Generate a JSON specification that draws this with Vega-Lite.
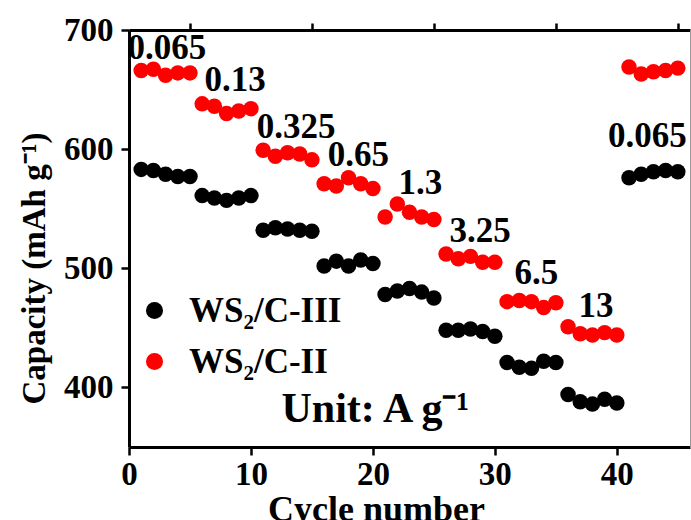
{
  "$schema": "https://vega.github.io/schema/vega-lite/v6.json",
  "width": 561,
  "height": 417,
  "autosize": "none",
  "padding": {"left": 129, "top": 30, "right": 1, "bottom": 73},
  "background": "white",
  "config": {
    "view": {"stroke": null},
    "font": "Liberation Serif",
    "axis": {"labelFont": "Liberation Serif", "titleFont": "Liberation Serif", "labelFontWeight": "bold", "titleFontWeight": "bold", "labelColor": "black", "titleColor": "black", "domainColor": "black", "tickColor": "black", "grid": false}
  },
  "datasets": {
    "pts": [
      {"cycle": 1, "capacity": 583, "series": "WS₂/C-III"},
      {"cycle": 2, "capacity": 582, "series": "WS₂/C-III"},
      {"cycle": 3, "capacity": 579, "series": "WS₂/C-III"},
      {"cycle": 4, "capacity": 577, "series": "WS₂/C-III"},
      {"cycle": 5, "capacity": 577, "series": "WS₂/C-III"},
      {"cycle": 6, "capacity": 561, "series": "WS₂/C-III"},
      {"cycle": 7, "capacity": 559, "series": "WS₂/C-III"},
      {"cycle": 8, "capacity": 557, "series": "WS₂/C-III"},
      {"cycle": 9, "capacity": 559, "series": "WS₂/C-III"},
      {"cycle": 10, "capacity": 561, "series": "WS₂/C-III"},
      {"cycle": 11, "capacity": 532, "series": "WS₂/C-III"},
      {"cycle": 12, "capacity": 534, "series": "WS₂/C-III"},
      {"cycle": 13, "capacity": 533, "series": "WS₂/C-III"},
      {"cycle": 14, "capacity": 532, "series": "WS₂/C-III"},
      {"cycle": 15, "capacity": 531, "series": "WS₂/C-III"},
      {"cycle": 16, "capacity": 502, "series": "WS₂/C-III"},
      {"cycle": 17, "capacity": 506, "series": "WS₂/C-III"},
      {"cycle": 18, "capacity": 502, "series": "WS₂/C-III"},
      {"cycle": 19, "capacity": 507, "series": "WS₂/C-III"},
      {"cycle": 20, "capacity": 504, "series": "WS₂/C-III"},
      {"cycle": 21, "capacity": 478, "series": "WS₂/C-III"},
      {"cycle": 22, "capacity": 481, "series": "WS₂/C-III"},
      {"cycle": 23, "capacity": 483, "series": "WS₂/C-III"},
      {"cycle": 24, "capacity": 480, "series": "WS₂/C-III"},
      {"cycle": 25, "capacity": 475, "series": "WS₂/C-III"},
      {"cycle": 26, "capacity": 448, "series": "WS₂/C-III"},
      {"cycle": 27, "capacity": 448, "series": "WS₂/C-III"},
      {"cycle": 28, "capacity": 449, "series": "WS₂/C-III"},
      {"cycle": 29, "capacity": 447, "series": "WS₂/C-III"},
      {"cycle": 30, "capacity": 443, "series": "WS₂/C-III"},
      {"cycle": 31, "capacity": 421, "series": "WS₂/C-III"},
      {"cycle": 32, "capacity": 417, "series": "WS₂/C-III"},
      {"cycle": 33, "capacity": 416, "series": "WS₂/C-III"},
      {"cycle": 34, "capacity": 422, "series": "WS₂/C-III"},
      {"cycle": 35, "capacity": 421, "series": "WS₂/C-III"},
      {"cycle": 36, "capacity": 394, "series": "WS₂/C-III"},
      {"cycle": 37, "capacity": 388, "series": "WS₂/C-III"},
      {"cycle": 38, "capacity": 386, "series": "WS₂/C-III"},
      {"cycle": 39, "capacity": 390, "series": "WS₂/C-III"},
      {"cycle": 40, "capacity": 387, "series": "WS₂/C-III"},
      {"cycle": 41, "capacity": 576, "series": "WS₂/C-III"},
      {"cycle": 42, "capacity": 579, "series": "WS₂/C-III"},
      {"cycle": 43, "capacity": 581, "series": "WS₂/C-III"},
      {"cycle": 44, "capacity": 582, "series": "WS₂/C-III"},
      {"cycle": 45, "capacity": 581, "series": "WS₂/C-III"},
      {"cycle": 1, "capacity": 666, "series": "WS₂/C-II"},
      {"cycle": 2, "capacity": 667, "series": "WS₂/C-II"},
      {"cycle": 3, "capacity": 662, "series": "WS₂/C-II"},
      {"cycle": 4, "capacity": 664, "series": "WS₂/C-II"},
      {"cycle": 5, "capacity": 664, "series": "WS₂/C-II"},
      {"cycle": 6, "capacity": 638, "series": "WS₂/C-II"},
      {"cycle": 7, "capacity": 636, "series": "WS₂/C-II"},
      {"cycle": 8, "capacity": 630, "series": "WS₂/C-II"},
      {"cycle": 9, "capacity": 632, "series": "WS₂/C-II"},
      {"cycle": 10, "capacity": 634, "series": "WS₂/C-II"},
      {"cycle": 11, "capacity": 599, "series": "WS₂/C-II"},
      {"cycle": 12, "capacity": 594, "series": "WS₂/C-II"},
      {"cycle": 13, "capacity": 597, "series": "WS₂/C-II"},
      {"cycle": 14, "capacity": 596, "series": "WS₂/C-II"},
      {"cycle": 15, "capacity": 591, "series": "WS₂/C-II"},
      {"cycle": 16, "capacity": 571, "series": "WS₂/C-II"},
      {"cycle": 17, "capacity": 569, "series": "WS₂/C-II"},
      {"cycle": 18, "capacity": 576, "series": "WS₂/C-II"},
      {"cycle": 19, "capacity": 571, "series": "WS₂/C-II"},
      {"cycle": 20, "capacity": 567, "series": "WS₂/C-II"},
      {"cycle": 21, "capacity": 543, "series": "WS₂/C-II"},
      {"cycle": 22, "capacity": 554, "series": "WS₂/C-II"},
      {"cycle": 23, "capacity": 547, "series": "WS₂/C-II"},
      {"cycle": 24, "capacity": 543, "series": "WS₂/C-II"},
      {"cycle": 25, "capacity": 541, "series": "WS₂/C-II"},
      {"cycle": 26, "capacity": 512, "series": "WS₂/C-II"},
      {"cycle": 27, "capacity": 508, "series": "WS₂/C-II"},
      {"cycle": 28, "capacity": 510, "series": "WS₂/C-II"},
      {"cycle": 29, "capacity": 505, "series": "WS₂/C-II"},
      {"cycle": 30, "capacity": 505, "series": "WS₂/C-II"},
      {"cycle": 31, "capacity": 472, "series": "WS₂/C-II"},
      {"cycle": 32, "capacity": 473, "series": "WS₂/C-II"},
      {"cycle": 33, "capacity": 472, "series": "WS₂/C-II"},
      {"cycle": 34, "capacity": 467, "series": "WS₂/C-II"},
      {"cycle": 35, "capacity": 471, "series": "WS₂/C-II"},
      {"cycle": 36, "capacity": 451, "series": "WS₂/C-II"},
      {"cycle": 37, "capacity": 445, "series": "WS₂/C-II"},
      {"cycle": 38, "capacity": 444, "series": "WS₂/C-II"},
      {"cycle": 39, "capacity": 446, "series": "WS₂/C-II"},
      {"cycle": 40, "capacity": 444, "series": "WS₂/C-II"},
      {"cycle": 41, "capacity": 669, "series": "WS₂/C-II"},
      {"cycle": 42, "capacity": 663, "series": "WS₂/C-II"},
      {"cycle": 43, "capacity": 665, "series": "WS₂/C-II"},
      {"cycle": 44, "capacity": 666, "series": "WS₂/C-II"},
      {"cycle": 45, "capacity": 668, "series": "WS₂/C-II"}
    ],
    "labels": [
      {"cycle": 3.1, "capacity": 685, "label": "0.065"},
      {"cycle": 8.7, "capacity": 658, "label": "0.13"},
      {"cycle": 13.7, "capacity": 619, "label": "0.325"},
      {"cycle": 18.8, "capacity": 595, "label": "0.65"},
      {"cycle": 23.9, "capacity": 572, "label": "1.3"},
      {"cycle": 28.8, "capacity": 531, "label": "3.25"},
      {"cycle": 33.4, "capacity": 496, "label": "6.5"},
      {"cycle": 38.3, "capacity": 468, "label": "13"},
      {"cycle": 42.5, "capacity": 611, "label": "0.065"}
    ],
    "unit": [
      {"cycle": 12.5, "capacity": 370.6, "label": "Unit: A g⁻¹"}
    ]
  },
  "resolve": {"axis": {"x": "independent", "y": "independent"}},
  "layer": [
    {
      "data": {"name": "pts"},
      "mark": {"type": "point", "shape": "circle", "filled": true, "opacity": 1, "size": 240},
      "encoding": {
        "x": {"field": "cycle", "type": "quantitative", "scale": {"domain": [0, 46], "nice": false, "zero": false},
          "axis": {"values": [0, 10, 20, 30, 40], "tickSize": 8, "tickWidth": 2.5, "domainWidth": 3, "labelFontSize": 33, "labelPadding": 3, "labelFlush": false, "title": "Cycle number", "titleFontSize": 36, "titlePadding": 1, "titleX": 247, "titleAnchor": "start", "titleAlign": "center"}},
        "y": {"field": "capacity", "type": "quantitative", "scale": {"domain": [350, 700], "nice": false, "zero": false},
          "axis": {"values": [400, 500, 600, 700], "tickSize": 8, "tickWidth": 2.5, "domainWidth": 3, "labelFontSize": 33, "labelPadding": 8, "labelFlush": false, "title": "Capacity (mAh g⁻¹)", "titleFontSize": 33, "titlePadding": 12, "titleY": 238, "titleAnchor": "start", "titleAlign": "center"}},
        "color": {"field": "series", "type": "nominal",
          "scale": {"domain": ["WS₂/C-III", "WS₂/C-II"], "range": ["black", "#ff0000"]},
          "legend": {"title": null, "orient": "none", "legendX": 8, "legendY": 263, "padding": 0, "labelFont": "Liberation Serif", "labelFontWeight": "bold", "labelFontSize": 35, "labelColor": "black", "labelOffset": 17, "symbolSize": 290, "symbolType": "circle", "symbolStrokeWidth": 0, "rowPadding": 15, "labelLimit": 400}}
      }
    },
    {
      "data": {"name": "labels"},
      "mark": {"type": "text", "font": "Liberation Serif", "fontWeight": "bold", "fontSize": 35, "baseline": "middle", "align": "center", "color": "black"},
      "encoding": {
        "x": {"field": "cycle", "type": "quantitative", "axis": {"values": [5, 15, 25, 35, 45], "labels": false, "domain": false, "tickSize": 7, "tickWidth": 2.5, "title": null}},
        "y": {"field": "capacity", "type": "quantitative", "axis": {"values": [450, 550, 650], "labels": false, "domain": false, "tickSize": 7, "tickWidth": 2.5, "title": null}},
        "text": {"field": "label"}
      }
    },
    {
      "data": {"name": "unit"},
      "mark": {"type": "text", "font": "Liberation Serif", "fontWeight": "bold", "fontSize": 42, "baseline": "alphabetic", "align": "left", "color": "black"},
      "encoding": {
        "x": {"field": "cycle", "type": "quantitative", "axis": {"orient": "top", "labels": false, "ticks": false, "domainWidth": 3, "title": null}},
        "y": {"field": "capacity", "type": "quantitative", "axis": {"orient": "right", "labels": false, "ticks": false, "domainWidth": 1, "domainColor": "#999999", "title": null}},
        "text": {"field": "label"}
      }
    }
  ]
}
